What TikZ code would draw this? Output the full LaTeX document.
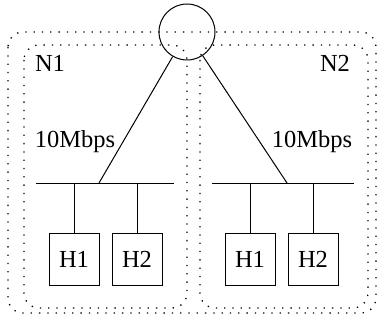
\documentclass[tikz,border=0pt]{standalone}
\usepackage{fontspec}
\setmainfont{Liberation Serif}
\begin{document}
\begin{tikzpicture}[x=1pt,y=-1pt,
  every node/.style={font=\fontsize{24.5}{28}\selectfont},
  wire/.style={line width=1pt},
  netbox/.style={line width=1.3pt,dash pattern=on 1.3pt off 7pt,rounded corners=15pt},
  host/.style={draw,line width=1pt,minimum width=50pt,minimum height=52pt,inner sep=0pt},
  hubnode/.style={draw,circle,line width=1pt,minimum size=56pt,inner sep=0pt}]
\useasboundingbox (0,0) rectangle (377,323);
% network boundaries
\draw[netbox] (8,32) rectangle (376,313);
\draw[netbox] (24,45) rectangle (187,308);
\draw[netbox] (200,45) rectangle (368,308);
% router
\node[hubnode] (hub) at (187,32) {};
% labels
\node[anchor=base] (n1) at (50,72) {N1};
\node[anchor=base] (n2) at (335,72) {N2};
\node[anchor=base] (bwl) at (75,148) {10Mbps};
\node[anchor=base] (bwr) at (312,148) {10Mbps};
% buses
\coordinate (busLa) at (36,183);
\coordinate (busLb) at (174,183);
\coordinate (busRa) at (212,183);
\coordinate (busRb) at (354,183);
\coordinate (tapL) at (99,183);
\coordinate (tapR) at (287,183);
\draw[wire] (busLa) -- (busLb);
\draw[wire] (busRa) -- (busRb);
\draw[wire] (hub) -- (tapL);
\draw[wire] (hub) -- (tapR);
% hosts
\node[host] (l1) at (74,259) {H1};
\node[host] (l2) at (137,259) {H2};
\node[host] (r1) at (250,259) {H1};
\node[host] (r2) at (313,259) {H2};
\coordinate (dl1) at (74,183);
\coordinate (dl2) at (137,183);
\coordinate (dr1) at (250,183);
\coordinate (dr2) at (313,183);
\draw[wire] (dl1) -- (l1.north);
\draw[wire] (dl2) -- (l2.north);
\draw[wire] (dr1) -- (r1.north);
\draw[wire] (dr2) -- (r2.north);
\end{tikzpicture}
\end{document}
